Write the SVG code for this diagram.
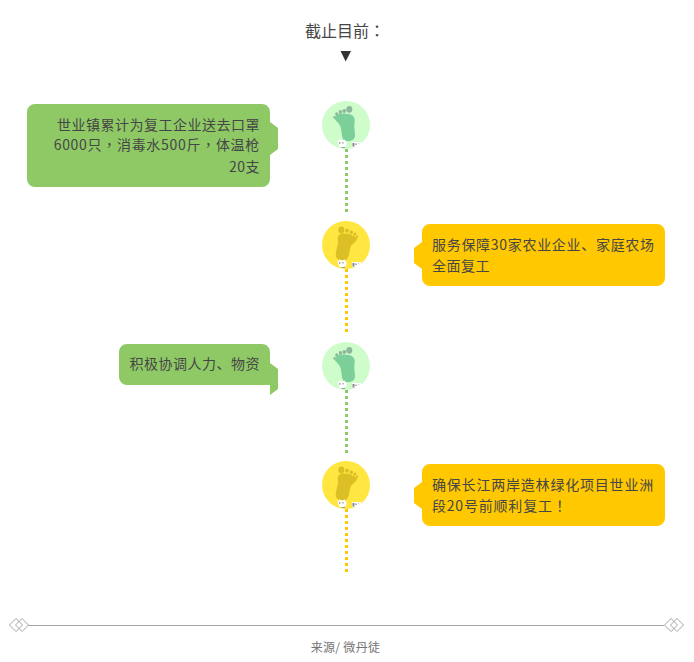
<svg xmlns="http://www.w3.org/2000/svg" width="694" height="662" viewBox="0 0 694 662">
<style>
text{font-family:"Noto Sans CJK SC","Noto Sans",sans-serif;fill:#464646}
tspan.p{font-family:"Noto Sans CJK TC","Noto Sans",sans-serif}
.t{font-size:14px;letter-spacing:.5px}
.w8{letter-spacing:.8px}
.w7{letter-spacing:.7px}
.r{text-anchor:end}
.g{fill:#8fc966}
.y{fill:#ffc800}
.cg{fill:#cefccb}
.cy{fill:#ffe640}
.fg{fill:#7ccf98}
.fy{fill:#dcbf24}
.d{stroke-width:3;stroke-dasharray:3 3;fill:none}
.o{fill:none;stroke:#a6a6a6;stroke-width:1}
.w{fill:#fff}
.k{fill:#555}
</style>
<defs>
<g id="markg">
<ellipse cx="3.300" cy="-15.700" rx="3" ry="3.400" fill="#8fb89a"/>
<ellipse cx="-1.700" cy="-14" rx="1.900" ry="2.100" fill="#8fb89a"/>
<ellipse cx="-5.600" cy="-13" rx="1.700" ry="1.900" fill="#8fb89a"/>
<ellipse cx="-9.300" cy="-11" rx="1.500" ry="1.700" fill="#8fb89a"/>
<ellipse cx="-11.500" cy="-7.700" rx="1.200" ry="1.400" fill="#8fb89a"/>
<path d="M-11-8C-9-12-2-12 3-11C8-10 9.500-6 8.500-2C7.500 3 10 9 8.500 13C6 17-1 17-3 14C-5 9-4 3-7-1C-9-4-12-5-11-8Z"/>
</g>
<g id="marky">
<ellipse cx="-4.700" cy="-15" rx="3" ry="3.400"/>
<ellipse cx="1" cy="-14.300" rx="1.900" ry="2.100"/>
<ellipse cx="5.300" cy="-12.700" rx="1.700" ry="1.900"/>
<ellipse cx="8.800" cy="-10.700" rx="1.500" ry="1.700"/>
<ellipse cx="11" cy="-8" rx="1.200" ry="1.400"/>
<path d="M-7-10C-3-13 6-11 10.500-7C12-4 8-3 5 1C3 5 4 10 1 14C-2 17-8 16-10 12C-11 6-8 2-8-3C-8-6-9-8-7-10Z"/>
</g>
<g id="deco">
<path class="w" d="M-8.500 17l2-2.500 3 1 2-1 2 3 0 3-3 2-4-.5z"/>
<path class="w" d="M6 17h9l.5 1.500-1 3.500-8.500 0z"/>
<path class="k" opacity=".7" d="M-7 17.500l1.200-.8 .3 1.500-1.200.8zM-3.500 17h1v1.500h-1zM-4.500 22.300h3.500v.8h-3.500zM6.500 18h2v3.500h-2zM9.500 18.500h1.200v1.500h-1.200zM12 18.500h1.200v1z"/>
</g>
</defs>
<g id="connectors">
<path class="d" stroke="#8fc966" d="M346.500 149V213"/>
<path class="d" stroke="#ffc800" d="M346.500 269V333"/>
<path class="d" stroke="#8fc966" d="M346.500 390V453"/>
<path class="d" stroke="#ffc800" d="M346.500 509V573"/>
</g>
<g id="title">
<text x="305" y="37" style="font-size:16px">截止目前<tspan class="p">：</tspan></text>
<path d="M340.500 51H351L345.700 61.500Z" fill="#333"/>
</g>
<g id="node1">
<path class="g" d="M35 104H262a8 8 0 0 1 8 8V122L278 128V149L270 155V179a8 8 0 0 1-8 8H35a8 8 0 0 1-8-8V112a8 8 0 0 1 8-8Z"/>
<text class="t r" x="260" y="130">世业镇累计为复工企业送去口罩</text>
<text class="t r w7" x="260" y="150">6000只<tspan class="p">，</tspan>消毒水500斤<tspan class="p">，</tspan>体温枪</text>
<text class="t r" x="260" y="172">20支</text>
<g transform="translate(346 125)"><circle r="24" class="cg"/><use href="#markg" class="fg"/><use href="#deco"/></g>
</g>
<g id="node2">
<path class="y" d="M430 224H657a8 8 0 0 1 8 8V278a8 8 0 0 1-8 8H430a8 8 0 0 1-8-8V269L414 263V248L422 242V232a8 8 0 0 1 8-8Z"/>
<text class="t w7" x="432" y="250">服务保障30家农业企业、家庭农场</text>
<text class="t" x="432" y="271">全面复工</text>
<g transform="translate(346 245)"><circle r="24" class="cy"/><use href="#marky" class="fy"/><use href="#deco"/></g>
</g>
<g id="node3">
<path class="g" d="M127 344H262a8 8 0 0 1 8 8V363L278 369V389L270 395V385H127a8 8 0 0 1-8-8V352a8 8 0 0 1 8-8Z"/>
<text class="t r" x="260" y="369">积极协调人力、物资</text>
<g transform="translate(346 366)"><circle r="24" class="cg"/><use href="#markg" class="fg"/><use href="#deco"/></g>
</g>
<g id="node4">
<path class="y" d="M430 464H657a8 8 0 0 1 8 8V518a8 8 0 0 1-8 8H430a8 8 0 0 1-8-8V509L414 503V488L422 482V472a8 8 0 0 1 8-8Z"/>
<text class="t w8" x="432" y="490">确保长江两岸造林绿化项目世业洲</text>
<text class="t w8" x="432" y="511">段20号前顺利复工<tspan class="p">！</tspan></text>
<g transform="translate(346 485)"><circle r="24" class="cy"/><use href="#marky" class="fy"/><use href="#deco"/></g>
</g>
<g id="footer">
<path d="M28 625.500H664" stroke="#a6a6a6" fill="none"/>
<path class="o" d="M9.500 625l6.500-6.500 6.500 6.500-6.500 6.500zM15.500 625l6.500-6.500 6.500 6.500-6.500 6.500z"/>
<path class="o" d="M664.500 625l6.500-6.500 6.500 6.500-6.500 6.500zM670.500 625l6.500-6.500 6.500 6.500-6.500 6.500z"/>
<text x="345.500" y="652" text-anchor="middle" style="font-size:12px;fill:#737373;letter-spacing:.3px">来源/ 微丹徒</text>
</g>
</svg>
